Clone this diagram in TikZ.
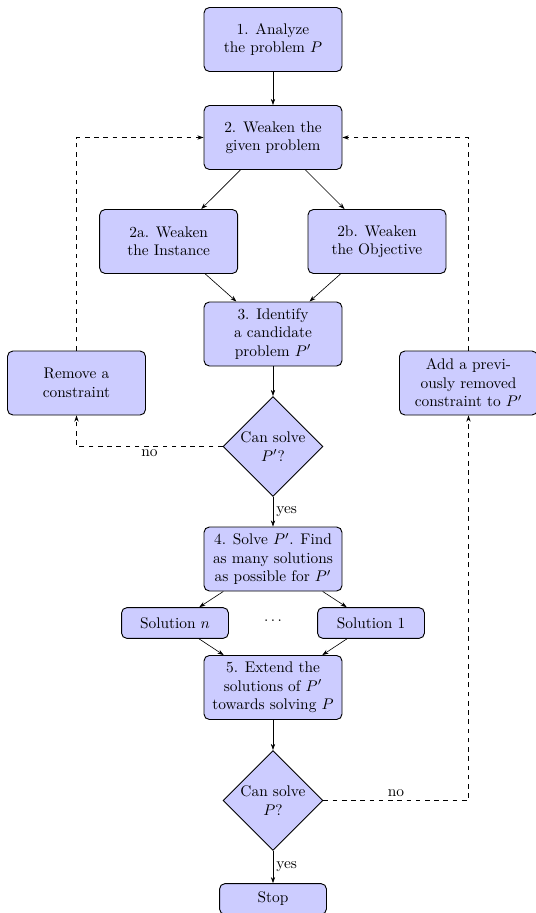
\documentclass[tikz,border=0pt]{standalone}
\usetikzlibrary{shapes.geometric,arrows.meta}
\begin{document}
\begin{tikzpicture}[x=0.65pt,y=-0.65pt,
  every node/.style={align=center},
  stepbox/.style={draw,semithick,fill=blue!20,rounded corners=3.5pt,
    minimum width=89.7pt,minimum height=41.6pt,inner sep=2pt},
  smallbox/.style={draw,semithick,fill=blue!20,rounded corners=3.5pt,
    minimum width=69.5pt,minimum height=20pt,inner sep=2pt},
  decision/.style={draw,semithick,fill=blue!20,diamond,aspect=1,
    minimum width=65pt,minimum height=65pt,inner sep=0pt},
  arr/.style={-{Stealth[length=4pt,width=2.8pt]}},
  lbl/.style={inner sep=2pt}]
\useasboundingbox (0,0) rectangle (535,913);
\node[stepbox] (b1) at (273,39.5) {1. Analyze\\the problem $P$};
\node[stepbox] (b2) at (273,137.5) {2. Weaken the\\given problem};
\node[stepbox] (b2a) at (168.7,241.5) {2a. Weaken\\the Instance};
\node[stepbox] (b2b) at (377,241.5) {2b. Weaken\\the Objective};
\node[stepbox] (b3) at (273,334) {3. Identify\\a candidate\\problem $P'$};
\node[stepbox] (rem) at (76.5,383) {Remove a\\constraint};
\node[stepbox] (add) at (468.5,383) {Add a previ-\\ously removed\\constraint to $P'$};
\node[decision] (d1) at (273,446.5) {Can solve\\$P'$?};
\node[stepbox] (b4) at (273,559) {4. Solve $P'$. Find\\as many solutions\\as possible for $P'$};
\node[smallbox] (soln) at (175,623) {Solution $n$};
\node[smallbox] (sol1) at (371,623) {Solution 1};
\node (dots) at (273,621) {$\cdots$};
\node[stepbox] (b5) at (273,687.5) {5. Extend the\\solutions of $P'$\\towards solving $P$};
\node[decision] (d2) at (273,800.5) {Can solve\\$P$?};
\node[smallbox] (stop) at (273,899) {Stop};

\draw[arr] (b1) -- (b2);
\draw[arr] (b2) -- (b2a);
\draw[arr] (b2) -- (b2b);
\draw[arr] (b2a) -- (b3);
\draw[arr] (b2b) -- (b3);
\draw[arr] (b3) -- (d1);
\draw[arr] (d1) -- node[right,lbl] {yes} (b4);
\draw[arr] (b4) -- (soln);
\draw[arr] (b4) -- (sol1);
\draw[arr] (soln) -- (b5);
\draw[arr] (sol1) -- (b5);
\draw[arr] (b5) -- (d2);
\draw[arr] (d2) -- node[right,lbl] {yes} (stop);

\draw[arr,dashed] (rem.north) |- (b2.west);
\draw[arr,dashed] (add.north) |- (b2.east);
\draw[arr,dashed] (d1.west) -| node[pos=0.25,below,lbl] {no} (rem.south);
\draw[arr,dashed] (d2.east) -| node[pos=0.25,above,lbl] {no} (add.south);
\end{tikzpicture}
\end{document}
